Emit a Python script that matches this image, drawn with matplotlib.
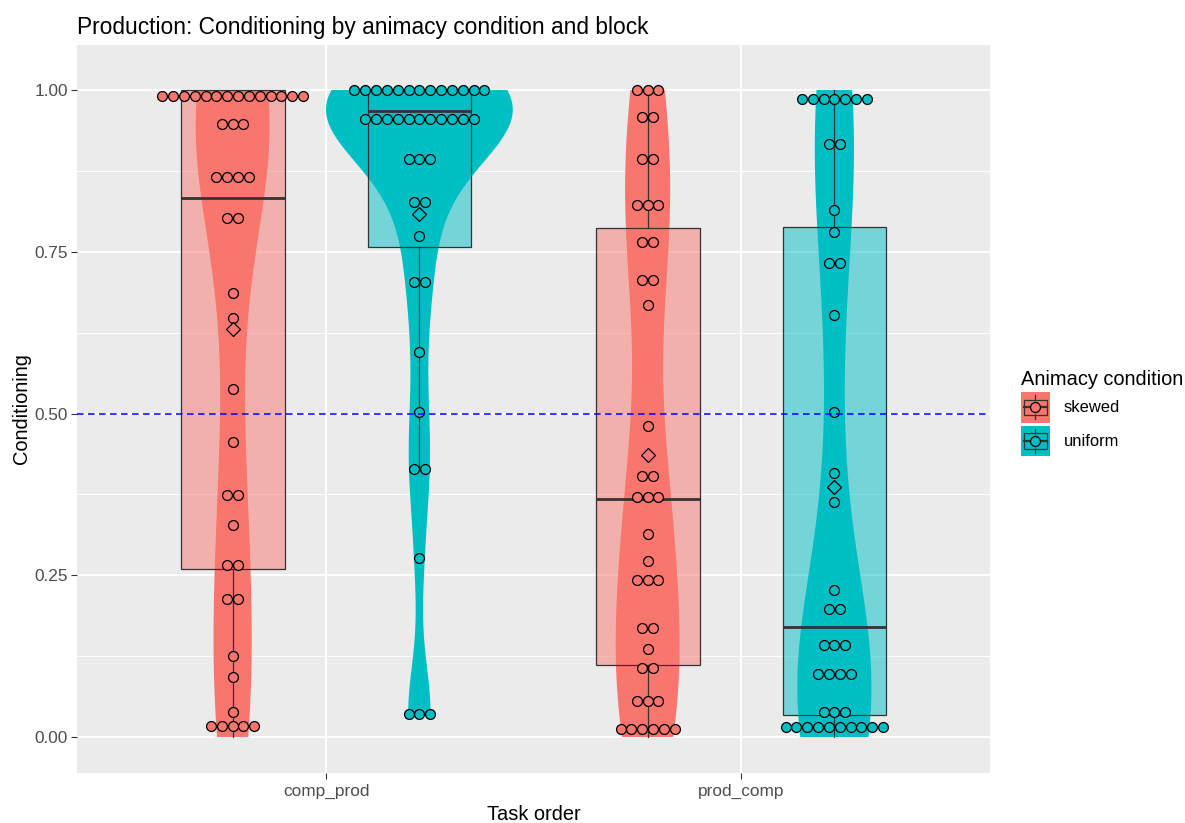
import numpy as np
import matplotlib
matplotlib.use("Agg")
import matplotlib.pyplot as plt
from matplotlib.patches import Rectangle
from matplotlib.lines import Line2D
from matplotlib.legend_handler import HandlerBase
from matplotlib.ticker import FixedLocator

plt.rcParams['font.family'] = ['Liberation Sans', 'DejaVu Sans']

# ---------------------------------------------------------------- data
task_orders = ["comp_prod", "prod_comp"]
conditions = ["skewed", "uniform"]
palette = {"skewed": "#F8766D", "uniform": "#00BFC4"}

# participant scores: distinct levels and how many participants share each
comp_prod_skewed_levels = [0.991, 0.947, 0.865, 0.802, 0.687, 0.647, 0.538, 0.456,
                           0.374, 0.328, 0.266, 0.213, 0.125, 0.092, 0.038, 0.0175]
comp_prod_skewed_counts = [14, 3, 4, 2, 1, 1, 1, 1, 2, 1, 2, 2, 1, 1, 1, 5]

comp_prod_uniform_levels = [1.0, 0.955, 0.893, 0.827, 0.775, 0.703, 0.595, 0.502,
                            0.414, 0.276, 0.0355]
comp_prod_uniform_counts = [13, 11, 3, 2, 1, 2, 1, 1, 2, 1, 3]

prod_comp_skewed_levels = [1.0, 0.959, 0.894, 0.822, 0.765, 0.707, 0.667, 0.480, 0.403,
                           0.371, 0.314, 0.272, 0.242, 0.168, 0.136, 0.1066, 0.055, 0.0124]
prod_comp_skewed_counts = [3, 2, 2, 3, 2, 2, 1, 1, 2, 3, 1, 1, 3, 2, 1, 2, 3, 6]

prod_comp_uniform_levels = [0.986, 0.9165, 0.8145, 0.780, 0.733, 0.652, 0.502, 0.4085,
                            0.363, 0.2277, 0.198, 0.142, 0.097, 0.0386, 0.016]
prod_comp_uniform_counts = [7, 2, 1, 1, 2, 1, 1, 1, 1, 1, 2, 3, 4, 3, 10]

# box summaries: lower whisker, Q1, median, Q3, upper whisker
comp_prod_skewed_box = [0.0, 0.260, 0.833, 1.0, 1.0]
comp_prod_uniform_box = [0.414, 0.758, 0.967, 1.0, 1.0]
prod_comp_skewed_box = [0.0, 0.111, 0.368, 0.786, 1.0]
prod_comp_uniform_box = [0.0, 0.0335, 0.170, 0.788, 1.0]

reference_line = 0.5

groups = [
    ("comp_prod", "skewed", comp_prod_skewed_levels, comp_prod_skewed_counts, comp_prod_skewed_box),
    ("comp_prod", "uniform", comp_prod_uniform_levels, comp_prod_uniform_counts, comp_prod_uniform_box),
    ("prod_comp", "skewed", prod_comp_skewed_levels, prod_comp_skewed_counts, prod_comp_skewed_box),
    ("prod_comp", "uniform", prod_comp_uniform_levels, prod_comp_uniform_counts, prod_comp_uniform_box),
]

# ---------------------------------------------------------------- helpers
DODGE = 0.225
VIOLIN_WIDTH = 0.45
BOX_WIDTH = 0.25
DOT_STEP = 0.0261
OUTLINE = "#333333"


def kde_profile(values, lo, hi, n=512):
    v = np.asarray(values, float)
    sd = v.std(ddof=1)
    q75, q25 = np.percentile(v, [75, 25])
    bw = 0.9 * min(sd, (q75 - q25) / 1.34) * len(v) ** -0.2
    y = np.linspace(lo, hi, n)
    z = (y[:, None] - v[None, :]) / bw
    dens = np.exp(-0.5 * z ** 2).sum(axis=1) / (len(v) * bw * np.sqrt(2 * np.pi))
    return y, dens


def with_alpha(color, a):
    r, g, b, _ = matplotlib.colors.to_rgba(color)
    return (r, g, b, a)


# ---------------------------------------------------------------- figure
fig = plt.figure(figsize=(11.85, 8.23), dpi=100)
ax = fig.add_axes([77 / 1185, 1 - 772.7 / 823, (990 - 77) / 1185, (772.7 - 45) / 823])
ax.set_facecolor("#EBEBEB")
for s in ax.spines.values():
    s.set_visible(False)

ax.set_xlim(-0.6, 1.6)
ax.set_ylim(-0.0552, 1.0696)

# violin profiles (area scaling shared across all groups)
profiles = []
for order, cond, levels, counts, box in groups:
    vals = np.repeat(levels, counts)
    lo = min(vals.min(), box[0])
    hi = max(vals.max(), box[4])
    y, d = kde_profile(vals, lo, hi)
    profiles.append((y, d))
dmax = max(d.max() for _, d in profiles)

for (order, cond, levels, counts, box), (y, d) in zip(groups, profiles):
    xc = task_orders.index(order) + (-DODGE if cond == "skewed" else DODGE)
    col = palette[cond]
    vals = np.repeat(levels, counts)

    half = d / dmax * VIOLIN_WIDTH / 2
    ax.fill_betweenx(y, xc - half, xc + half, facecolor=col, edgecolor="none",
                     linewidth=0, zorder=1)

    stats = [dict(whislo=box[0], q1=box[1], med=box[2], q3=box[3], whishi=box[4],
                  fliers=[])]
    ax.bxp(stats, positions=[xc], widths=BOX_WIDTH, patch_artist=True,
           showcaps=False, showfliers=False, manage_ticks=False,
           boxprops=dict(facecolor=with_alpha(col, 0.5), edgecolor=OUTLINE, linewidth=0.9),
           whiskerprops=dict(color=OUTLINE, linewidth=0.9),
           medianprops=dict(color=OUTLINE, linewidth=2.0, solid_capstyle="butt"),
           zorder=2)

    for lvl, k in zip(levels, counts):
        xs = xc + (np.arange(k) - (k - 1) / 2) * DOT_STEP
        ax.plot(xs, np.full(k, lvl), linestyle="none", marker="o", markersize=7.1,
                markerfacecolor=col, markeredgecolor="black", markeredgewidth=0.9,
                zorder=3, clip_on=False)

    ax.plot([xc], [vals.mean()], linestyle="none", marker="D", markersize=7.4,
            markerfacecolor=col, markeredgecolor="black", markeredgewidth=0.9, zorder=4)

ax.axhline(reference_line, color="#0000FF", linewidth=1.1,
           linestyle=(0, (4.3, 2.9)), zorder=5)

# axes, ticks, grid
ax.set_xticks(range(len(task_orders)))
ax.set_xticklabels(task_orders)
yt = [0.0, 0.25, 0.5, 0.75, 1.0]
ax.set_yticks(yt)
ax.set_yticklabels([f"{v:.2f}" for v in yt])
ax.yaxis.set_minor_locator(FixedLocator([0.125, 0.375, 0.625, 0.875]))
ax.tick_params(axis="both", which="major", length=4.3, width=0.8, color=OUTLINE,
               labelsize=12.4, labelcolor="#4D4D4D")
ax.tick_params(axis="x", which="major", pad=3.6)
ax.tick_params(axis="y", which="major", pad=2.2)
ax.tick_params(axis="y", which="minor", length=0)
ax.grid(True, which="major", color="white", linewidth=1.4, zorder=0)
ax.grid(True, which="minor", axis="y", color="white", linewidth=0.7, zorder=0)
ax.set_axisbelow(True)

ax.set_xlabel("Task order", fontsize=14.4, color="black", labelpad=4.6)
ax.set_ylabel("Conditioning", fontsize=14.4, color="black")
ax.yaxis.set_label_coords(-0.05, 0.5)
ax.set_title("Production: Conditioning by animacy condition and block",
             loc="left", fontsize=16.4, color="black", pad=8)


# legend keys combining violin, box and dot glyphs
class ConditionKey(HandlerBase):
    def create_artists(self, legend, orig_handle, xdescent, ydescent, width, height,
                       fontsize, trans):
        c = orig_handle.get_facecolor()
        x0, y0 = -xdescent, -ydescent
        cx, cy = x0 + width / 2, y0 + height / 2
        arts = [
            Rectangle((x0, y0), width, height, facecolor=c, edgecolor="none",
                      transform=trans),
            Line2D([cx, cx], [y0 + 0.1 * height, y0 + 0.9 * height], color=OUTLINE,
                   linewidth=0.9, transform=trans),
            Rectangle((x0 + 0.1 * width, y0 + 0.25 * height), 0.8 * width, 0.5 * height,
                      facecolor=with_alpha(c, 0.5), edgecolor=OUTLINE, linewidth=0.9,
                      transform=trans),
            Line2D([x0 + 0.1 * width, x0 + 0.9 * width], [cy, cy], color=OUTLINE,
                   linewidth=1.6, transform=trans),
            Line2D([cx], [cy], marker="o", markersize=7.1, markerfacecolor=c,
                   markeredgecolor="black", markeredgewidth=0.9, linestyle="none",
                   transform=trans),
        ]
        return arts


handles = [Rectangle((0, 0), 1, 1, facecolor=palette[c]) for c in conditions]
leg = fig.legend(handles, conditions, handler_map={Rectangle: ConditionKey()},
                 title="Animacy condition", loc="center left",
                 bbox_to_anchor=(1014 / 1185, 1 - 413 / 823), frameon=False,
                 fontsize=11.9, title_fontsize=14.4, handlelength=1.8,
                 handleheight=2.46, labelspacing=0.2, handletextpad=0.8,
                 alignment="left", borderaxespad=0)

fig.savefig("out.png", dpi=100, facecolor="white")
